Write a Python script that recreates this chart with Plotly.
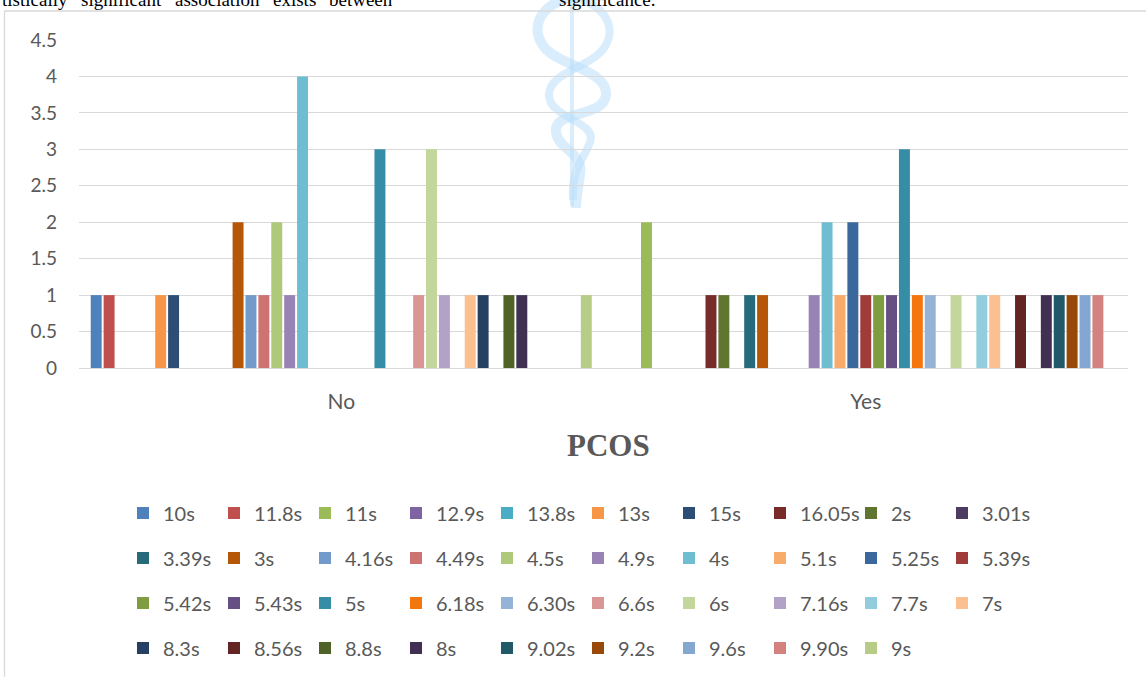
import plotly.graph_objects as go

# Categories on the x axis
pcos_groups = ["No", "Yes"]

# One series per recorded time, in legend order
series_names = [
    "10s", "11.8s", "11s", "12.9s", "13.8s", "13s", "15s", "16.05s", "2s", "3.01s",
    "3.39s", "3s", "4.16s", "4.49s", "4.5s", "4.9s", "4s", "5.1s", "5.25s", "5.39s",
    "5.42s", "5.43s", "5s", "6.18s", "6.30s", "6.6s", "6s", "7.16s", "7.7s", "7s",
    "8.3s", "8.56s", "8.8s", "8s", "9.02s", "9.2s", "9.6s", "9.90s", "9s",
]

# Counts for PCOS = No
counts_no = [
    1, 1, 0, 0, 0, 1, 1, 0, 0, 0,
    0, 2, 1, 1, 2, 1, 4, 0, 0, 0,
    0, 0, 3, 0, 0, 1, 3, 1, 0, 1,
    1, 0, 1, 1, 0, 0, 0, 0, 1,
]

# Counts for PCOS = Yes
counts_yes = [
    0, 0, 2, 0, 0, 0, 0, 1, 1, 0,
    1, 1, 0, 0, 0, 1, 2, 1, 2, 1,
    1, 1, 3, 1, 1, 0, 1, 0, 1, 1,
    0, 1, 0, 1, 1, 1, 1, 1, 0,
]

series_colors = [
    "#4F81BD", "#C0504D", "#9BBB59", "#8064A2", "#4BACC6", "#F79646",
    "#2C4D75", "#772C2A", "#5F7530", "#4D3B62", "#276A7C", "#B65708",
    "#729ACA", "#CD7371", "#AFC97A", "#9983B5", "#6FBDD1", "#F9AB6B",
    "#3A679C", "#9F3B38", "#7E9C40", "#664F83", "#358EA6", "#F3760F",
    "#95B3D7", "#D99694", "#C3D69B", "#B2A2C7", "#93CDDD", "#FAC090",
    "#254061", "#632523", "#4F6228", "#403152", "#215968", "#984807",
    "#84A7D1", "#D38280", "#B7CD87",
]

y_ticks = [0, 0.5, 1, 1.5, 2, 2.5, 3, 3.5, 4, 4.5]

W, H = 1146, 677
L, R, T, B = 79, 18, 40, 309
PW, PH = W - L - R, H - T - B


def px_x(px):
    return (px - L) / PW


def px_y(py):
    return (H - B - py) / PH


TEXT_GREY = "#595959"
GRID = "#D9D9D9"
SANS = "Lato, 'Open Sans', sans-serif"
SERIF = "'Liberation Serif', 'Times New Roman', serif"

legend_ids = ["legend", "legend2", "legend3", "legend4"]

fig = go.Figure()
for i, name in enumerate(series_names):
    fig.add_trace(go.Bar(
        name=name,
        x=pcos_groups,
        y=[counts_no[i], counts_yes[i]],
        marker=dict(color=series_colors[i], line=dict(width=0)),
        legend=legend_ids[i // 10],
        hovertemplate=name + ": %{y}<extra>%{x}</extra>",
    ))

legend_rows_py = [513, 558, 603, 648]
legend_common = dict(
    orientation="h",
    xanchor="left",
    yanchor="middle",
    entrywidth=46,
    entrywidthmode="pixels",
    font=dict(family=SANS, size=20, color=TEXT_GREY),
    bgcolor="rgba(0,0,0,0)",
    itemclick=False,
    itemdoubleclick=False,
    traceorder="normal",
)
legend_layout = {}
for k, lid in enumerate(legend_ids):
    legend_layout[lid] = dict(legend_common, x=px_x(123), y=px_y(legend_rows_py[k]))

# Faint logo drawn behind the grid
logo_color = "rgba(185, 222, 250, 0.55)"


def path_from(points):
    (x0, y0), rest = points[0], points[1:]
    s = f"M {px_x(x0):.5f},{px_y(y0):.5f}"
    for j in range(0, len(rest), 3):
        (a, b), (c, d), (e, f) = rest[j:j + 3]
        s += (f" C {px_x(a):.5f},{px_y(b):.5f} {px_x(c):.5f},{px_y(d):.5f}"
              f" {px_x(e):.5f},{px_y(f):.5f}")
    return s


strand_a = [(605, -4), (545, -10), (525, 25), (545, 48), (560, 66), (608, 70), (606, 95),
            (604, 118), (553, 110), (556, 132), (558, 150), (584, 152), (580, 175),
            (578, 188), (576, 198), (576, 208)]
strand_b = [(540, -4), (595, -10), (622, 22), (604, 48), (590, 68), (548, 72), (549, 96),
            (550, 118), (598, 122), (590, 142), (584, 160), (571, 168), (573, 200)]

shapes = [
    dict(type="path", path=path_from(strand_a), xref="paper", yref="paper",
         line=dict(color=logo_color, width=10), layer="below"),
    dict(type="path", path=path_from(strand_b), xref="paper", yref="paper",
         line=dict(color=logo_color, width=8), layer="below"),
    dict(type="line", xref="paper", yref="paper", x0=px_x(572), x1=px_x(572),
         y0=px_y(-2), y1=px_y(206), line=dict(color=logo_color, width=4), layer="below"),
    # chart frame
    dict(type="rect", xref="paper", yref="paper", x0=px_x(4.5), x1=px_x(1160),
         y0=px_y(690), y1=px_y(11), line=dict(color=GRID, width=1.3), layer="below"),
]

annotations = [
    dict(text="<b>PCOS</b>", xref="paper", yref="paper", x=px_x(608), y=px_y(445),
         xanchor="center", yanchor="middle", showarrow=False,
         font=dict(family=SERIF, size=31, color=TEXT_GREY)),
]

# Running text of the page above the chart (cut by the top edge)
header_words = [("tistically", 0), ("significant", 79), ("association", 173),
                ("exists", 271), ("between", 327), ("significance.", 557)]
for word, x0 in header_words:
    annotations.append(dict(
        text=word, xref="paper", yref="paper", x=px_x(x0), y=px_y(0),
        xanchor="left", yanchor="middle", showarrow=False,
        font=dict(family=SERIF, size=19, color="#000000")))

fig.update_layout(
    width=W, height=H,
    margin=dict(l=L, r=R, t=T, b=B, autoexpand=False),
    paper_bgcolor="white",
    plot_bgcolor="rgba(0,0,0,0)",
    barmode="group",
    bargap=0.041,
    bargroupgap=0.15,
    showlegend=True,
    shapes=shapes,
    annotations=annotations,
    **legend_layout,
)
fig.update_xaxes(
    type="category",
    showgrid=False,
    showline=True, linecolor=GRID, linewidth=1.3,
    ticks="",
    ticklabelstandoff=15,
    tickfont=dict(family=SANS, size=21, color=TEXT_GREY),
    fixedrange=True,
)
fig.update_yaxes(
    range=[0, 4.5],
    tickvals=y_ticks,
    ticktext=[f"{v:g}" for v in y_ticks],
    showgrid=True, gridcolor=GRID, gridwidth=1.3,
    zeroline=False,
    showline=False,
    ticks="",
    ticklabelstandoff=21,
    tickfont=dict(family=SANS, size=19, color=TEXT_GREY),
    fixedrange=True,
)

fig.write_html("out.html", config={"displayModeBar": False})
